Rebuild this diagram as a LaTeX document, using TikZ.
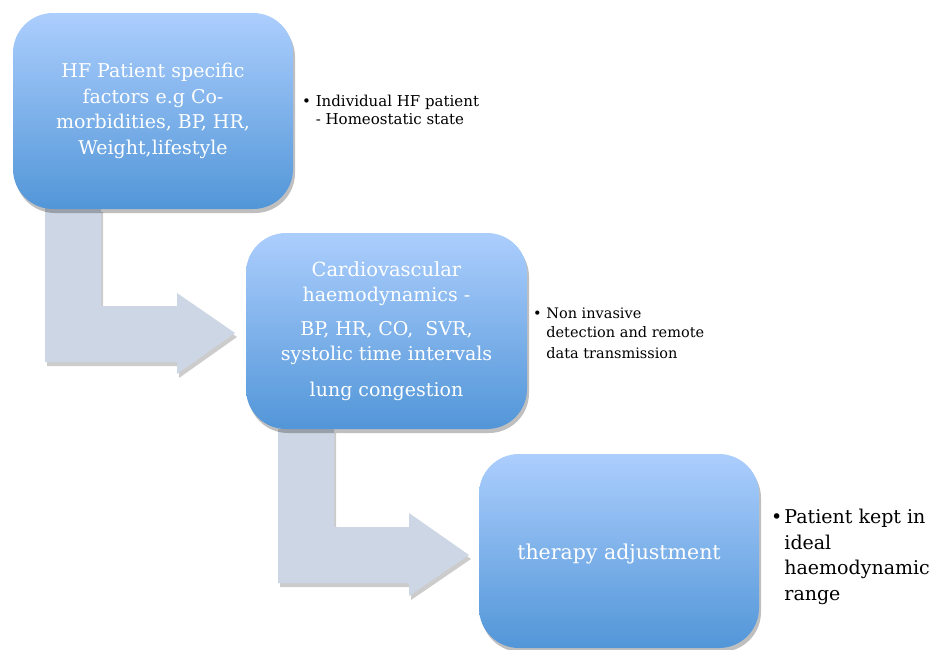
\documentclass[tikz,border=0pt]{standalone}
\usepackage{fontspec}
\setmainfont{DejaVu Serif}
\usetikzlibrary{shadows}
\definecolor{boxtop}{RGB}{172,206,253}
\definecolor{boxbot}{RGB}{82,150,216}
\definecolor{arrowfill}{RGB}{205,214,228}
\begin{document}
\begin{tikzpicture}[x=1pt,y=-1pt,
  stagebox/.style={rounded corners=40pt, top color=boxtop, bottom color=boxbot,
    draw=none, text=white, align=center, inner sep=0pt,
    font=\fontsize{19}{25.5}\selectfont,
    drop shadow={shadow xshift=2pt, shadow yshift=-4pt, opacity=0.25, fill=black}},
  bentarrow/.style={fill=arrowfill, draw=none,
    drop shadow={shadow xshift=2pt, shadow yshift=-4pt, opacity=0.2, fill=black}},
  note/.style={align=left, anchor=north west, inner sep=0pt, text=black}]
\useasboundingbox (0,0) rectangle (944,649);

% bent arrows
\coordinate (a1) at (45,208);
\coordinate (a2) at (278,429);
\path[bentarrow] (a1) -- ++(56,0) -- (101,306) -- (177,306) -- (177,293) -- (235,333)
  -- (177,374) -- (177,362) -- (45,362) -- cycle;
\path[bentarrow] (a2) -- ++(56,0) -- (334,527) -- (409,527) -- (409,513) -- (469,555)
  -- (409,596) -- (409,583) -- (278,583) -- cycle;

% boxes
\node[stagebox, minimum width=280pt, minimum height=196pt] (b1) at (153,111)
  {HF Patient specific\\ factors e.g Co-\\ morbidities, BP, HR,\\ Weight,lifestyle};
\node[stagebox, minimum width=281pt, minimum height=196pt] (b2) at (386.5,331)
  {\fontsize{19.5}{25.5}\selectfont Cardiovascular\\ haemodynamics -\\[8pt] BP, HR, CO,\ \ SVR,\\ systolic time intervals\\[10pt] lung congestion};
\node[stagebox, minimum width=280pt, minimum height=194pt, font=\fontsize{20.5}{25}\selectfont] (b3) at (619,551)
  {\rule{0pt}{22pt}therapy adjustment};

% notes
\node[note, font=\fontsize{15}{18}\selectfont] (n1) at (302,95)
  {\textbullet\ Individual HF patient\\ \hphantom{\textbullet\ }- Homeostatic state};
\node[note, font=\fontsize{14.5}{19.5}\selectfont] (n2) at (533,307.5)
  {\textbullet\ Non invasive\\ \hphantom{\textbullet\ }detection and remote\\[1pt] \hphantom{\textbullet\ }data transmission};
\node[note, font=\fontsize{19}{25.5}\selectfont] (n3) at (771,509)
  {\textbullet\hspace{2pt}Patient kept in\\ \hphantom{\textbullet\hspace{2pt}}ideal\\ \hphantom{\textbullet\hspace{2pt}}haemodynamic\\ \hphantom{\textbullet\hspace{2pt}}range};
\end{tikzpicture}
\end{document}
